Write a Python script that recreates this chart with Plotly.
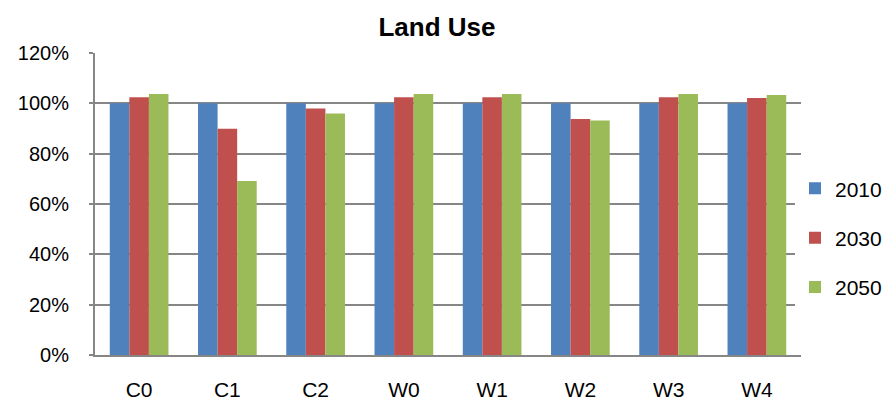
import plotly.graph_objects as go

categories = ["C0", "C1", "C2", "W0", "W1", "W2", "W3", "W4"]
v2010 = [1.00, 1.00, 1.00, 1.00, 1.00, 1.00, 1.00, 1.00]
v2030 = [1.024, 0.899, 0.979, 1.024, 1.024, 0.938, 1.024, 1.021]
v2050 = [1.037, 0.691, 0.960, 1.037, 1.037, 0.932, 1.037, 1.033]
series_names = ["2010", "2030", "2050"]
colors = ["#4F81BD", "#C0504D", "#9BBB59"]

fig = go.Figure()
for i, (name, vals) in enumerate(zip(series_names, [v2010, v2030, v2050])):
    fig.add_trace(go.Bar(
        x=categories, y=vals, name=name, legendgroup=name,
        marker=dict(color=colors[i], line=dict(width=0)),
    ))

font_family = "Liberation Sans, Arial, sans-serif"
W, H = 884, 401
ml, mr, mt, mb = 95, 10, 53, 46
pw = W - ml - mr
fig.update_layout(
    width=W, height=H,
    margin=dict(l=ml, r=mr, t=mt, b=mb, autoexpand=False),
    paper_bgcolor="white", plot_bgcolor="white",
    barmode="group", bargap=0.335, bargroupgap=0,
    title=dict(text="<b>Land Use</b>", x=(437 - ml) / pw, xref="paper", xanchor="center",
               y=1 - 27 / H, yanchor="middle",
               font=dict(family=font_family, size=26, color="black")),
    font=dict(family=font_family, size=20, color="black"),
    legend=dict(x=(795 - ml) / pw, xanchor="left", y=(355 - 237.7) / 302, yanchor="middle",
                tracegroupgap=19, font=dict(size=21), itemwidth=30),
    xaxis=dict(domain=[0, (801 - ml) / pw], showline=True, linecolor="#868686", linewidth=2,
               ticks="", tickfont=dict(size=21), showgrid=False, ticklabelstandoff=15),
    yaxis=dict(range=[0, 1.2], dtick=0.2, tickformat=".0%", showline=True,
               linecolor="#868686", linewidth=2, showgrid=True, gridcolor="#868686",
               gridwidth=2, ticks="outside", ticklen=4, tickcolor="#868686", tickwidth=2,
               tickfont=dict(size=20), zeroline=False, ticklabelstandoff=16),
)

fig.write_html("out.html")
